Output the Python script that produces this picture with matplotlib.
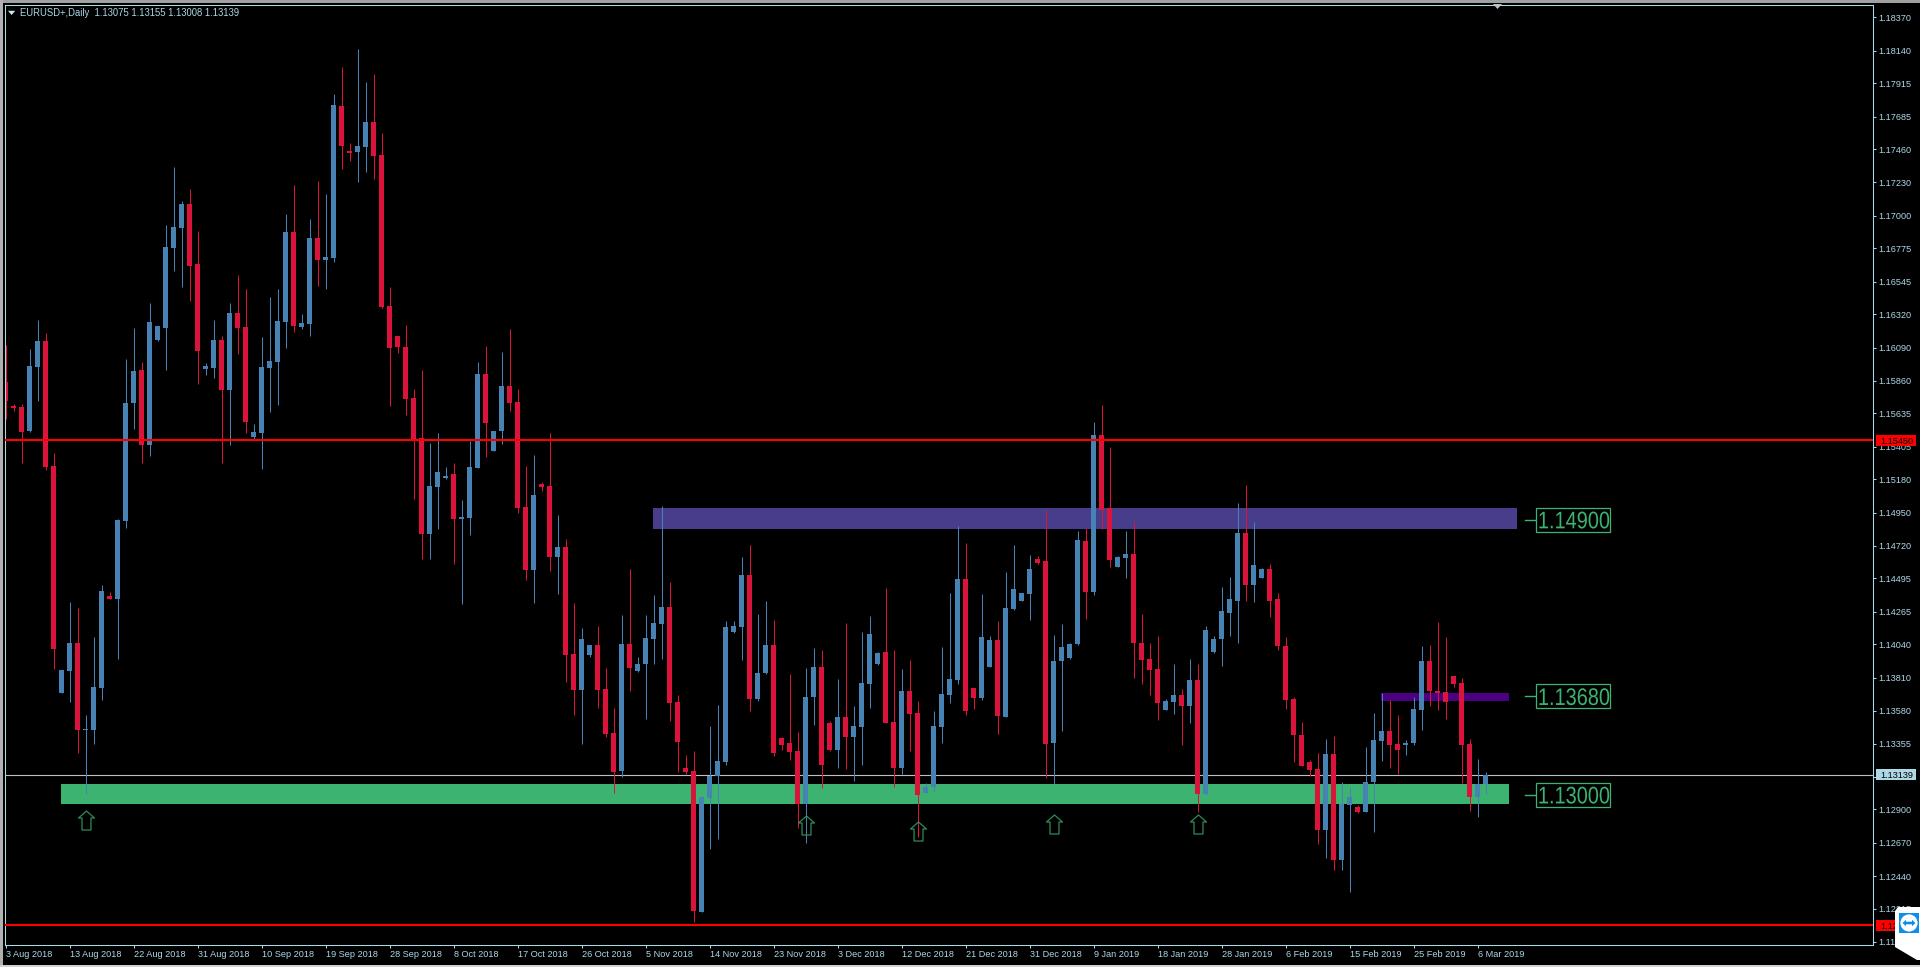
import numpy as np
import matplotlib
matplotlib.use("Agg")
import matplotlib.pyplot as plt
from matplotlib.patches import Rectangle, Polygon, Circle
from matplotlib.path import Path
from matplotlib.patheffects import AbstractPathEffect
from matplotlib.transforms import Affine2D

# Price values x 100000
opens = [
115852,115686,115679,115513,115955,116135,115272,113704,113856,114049,
113448,113448,113738,114374,114353,114892,115707,115935,115417,116142,
116225,116777,116915,117081,116667,115941,115948,116142,115796,116328,
116231,115472,115499,115948,115990,116266,116888,116231,116252,116846,
116694,116708,117758,117447,117440,117475,117647,117420,116377,116169,
116093,115741,115465,114802,115127,115189,115216,114905,114912,115258,
115907,115375,115513,115824,115713,114988,114553,115147,115133,114643,
114712,113973,113724,113966,114035,113731,113428,113165,114042,113856,
113904,114077,114180,114298,113642,113186,113165,112191,112978,113130,
113227,114125,114160,114519,113662,113842,114035,113393,113358,113303,
112937,113676,113883,113497,113310,113538,113400,113469,113766,113904,
113987,113503,113186,113717,113566,113013,113054,113469,113690,113794,
114491,113738,113669,113883,114070,113538,114284,114339,114388,114629,
114613,113361,113922,113946,114042,114753,114401,115486,114981,114574,
114636,114664,114051,113941,113872,113586,113644,113690,113616,113794,
113004,113989,114079,114259,114341,114806,114452,114500,114558,114351,
114028,113662,113414,113227,113176,112757,113282,112548,112930,112914,
112880,113087,113372,113441,113349,113345,113358,113586,113925,113717,
113711,113821,113773,113351,112985,113075]
closes = [
115720,115672,115506,115962,116135,115265,114008,113863,114049,113448,
113455,113745,114408,114353,114899,115707,115928,115417,116266,116238,
116784,116922,117081,116653,116066,115962,116142,115796,116328,116225,
115575,115506,115955,115997,116273,116888,116238,116259,116846,116694,
116715,117765,117482,117433,117482,117647,117413,116370,116086,116093,
115734,115451,114802,115133,115230,115203,114905,114919,115265,115907,
115568,115513,115824,115707,114981,114553,115071,115127,114643,114712,
113966,113724,114077,114035,113724,113421,113158,114042,113876,113904,
114084,114187,114298,113635,113365,113158,112198,112985,113130,113234,
114160,114167,114519,113662,113842,114035,113289,113345,113296,112937,
113676,113883,113206,113310,113538,113400,113476,113773,114111,113980,
113497,113186,113717,113559,112999,113054,113476,113697,113800,114491,
113579,113669,114090,114070,113545,114291,114422,114394,114560,114602,
113354,113927,114024,114045,114760,114401,115486,114968,114622,114643,
114664,114049,113934,113865,113637,113649,113690,113616,113794,113004,
114141,114079,114272,114351,114806,114452,114590,114558,114341,114028,
113655,113411,113202,113172,112757,113282,112548,112937,112985,112880,
113087,113381,113441,113345,113310,113358,113593,113925,113717,113704,
113642,113766,113345,112985,113075,113139]
highs = [
116107,115700,115700,116080,116280,116190,115361,113863,114332,114291,
113552,114090,114450,114401,114905,116010,116225,115990,116397,116238,
116936,117337,117102,117185,116895,115983,116280,116169,116397,116591,
116494,115562,116162,116439,116494,117012,117212,116321,116977,117240,
117150,117841,118027,117502,118152,117924,117979,117571,116508,116169,
116245,115803,115935,115430,115499,115265,115292,115037,115444,115990,
116100,115513,116059,116218,115803,115272,115347,115161,115499,114933,
114767,114325,114153,114035,114167,113876,113600,114242,114560,113952,
114242,114381,114995,114470,113690,113275,113303,112992,113476,113621,
114201,114201,114643,114726,114249,114339,114208,113400,113835,113434,
113876,114015,114001,113510,113800,114187,113614,114125,114235,113987,
114429,114001,113870,113932,113649,113082,113579,114021,114394,114857,
114740,113738,114388,114097,114201,114539,114726,114394,114657,114650,
114965,114107,114183,114051,114823,114843,115575,115693,115403,114650,
114823,114892,114249,114051,114100,113662,113906,113734,113941,113906,
114169,114100,114433,114503,115014,115138,114882,114569,114597,114397,
114093,113674,113503,113239,113289,113386,113409,113087,113054,112930,
113331,113566,113704,113655,113554,113379,113676,114028,114035,114194,
114090,113821,113807,113386,113248,113155]
lows = [
115596,115651,115292,115506,115720,115244,113870,113704,113642,113289,
113006,113351,113655,114353,113938,114843,115527,115292,115341,116135,
115935,116618,116508,116411,115838,115900,115879,115292,115417,116045,
115499,115458,115251,115644,115693,116086,116197,116218,116169,116515,
116494,116680,117323,117378,117233,117302,117254,116363,115686,116052,
115624,115044,114629,114629,114836,115182,114595,114318,114795,115258,
115334,115375,115423,115651,114947,114484,114325,115099,114546,114388,
113780,113552,113351,113952,113600,113400,113013,113124,113717,113849,
113524,113904,113938,113510,113158,113144,112122,112191,112626,112695,
113206,114118,113932,113579,113649,113835,113269,113310,113241,112771,
112668,113483,113048,113303,113186,113179,113096,113206,113600,113897,
113497,113054,113144,113303,112712,113013,113020,113358,113635,113766,
113552,113593,113655,113883,113421,113538,114277,114339,114208,114595,
113119,113075,113444,113941,114038,114215,114381,114836,114574,114574,
114498,113810,113766,113690,113517,113586,113556,113345,113499,112880,
112997,113982,113890,114100,114051,114341,114334,114496,114231,114001,
113593,113227,113202,113130,112658,112562,112479,112479,112327,112875,
112880,112741,113232,113186,113142,113275,113345,113448,113614,113586,
113524,113745,113082,112889,112847,113008]

date_labels = ["3 Aug 2018","13 Aug 2018","22 Aug 2018","31 Aug 2018","10 Sep 2018",
"19 Sep 2018","28 Sep 2018","8 Oct 2018","17 Oct 2018","26 Oct 2018","5 Nov 2018",
"14 Nov 2018","23 Nov 2018","3 Dec 2018","12 Dec 2018","21 Dec 2018","31 Dec 2018",
"9 Jan 2019","18 Jan 2019","28 Jan 2019","6 Feb 2019","15 Feb 2019","25 Feb 2019","6 Mar 2019"]
price_ticks = [1.18370,1.18140,1.17915,1.17685,1.17460,1.17230,1.17000,1.16775,1.16545,
1.16320,1.16090,1.15860,1.15635,1.15405,1.15180,1.14950,1.14720,1.14495,1.14265,1.14040,
1.13810,1.13580,1.13355,1.13125,1.12900,1.12670,1.12440,1.12215,1.11985]

# (left candle, right candle, upper price, lower price, colour)
band_green = (6.94, 187.94, 1.13075, 1.12937, "#3CB371")
band_blue = (80.94, 188.94, 1.14981, 1.14836, "#483D8B")
band_indigo = (171.94, 187.94, 1.13704, 1.13649, "#4B0082")
level_labels = [1.14900, 1.13680, 1.13000]
red_levels = [1.15450, 1.12100]
last_price = 1.13139
arrow_x = [10, 100, 114, 131, 149]
arrow_y = [1.12824, 1.12792, 1.12748, 1.12797, 1.12797]

UP, DOWN = "#4682B4", "#DC143C"
PALE = "#ADD8E6"
GREEN = "#3CB371"
W, H = 1920, 967
plt.rcParams["font.family"] = ["Liberation Sans", "DejaVu Sans"]


class SquashX(AbstractPathEffect):
    """Draw text narrower, holding its left edge in place."""

    def __init__(self, factor):
        super().__init__()
        self.factor = factor

    def draw_path(self, renderer, gc, tpath, affine, rgbFace=None):
        x0 = affine.transform_point((0, 0))[0]
        squeeze = Affine2D().translate(-x0, 0).scale(self.factor, 1).translate(x0, 0)
        renderer.draw_path(gc, tpath, affine + squeeze, rgbFace)


o, c, hi, lo = [np.array(a) / 1e5 for a in (opens, closes, highs, lows)]
assert len(o) == len(c) == len(hi) == len(lo) == 186
x = np.arange(len(o))
col = np.where(c >= o, UP, DOWN)

fig = plt.figure(figsize=(W / 100, H / 100), dpi=100, facecolor="black")
ax = fig.add_axes([4.5 / W, 1 - 944.5 / H, 1868 / W, 940 / H], facecolor="black")
ax.set_xlim(-0.125, 233.375)
ax.set_ylim(1.11967, 1.18459)

for l, r, top, bot, colr in (band_green, band_blue, band_indigo):
    ax.add_patch(Rectangle((l, bot), r - l, top - bot, fc=colr, ec="none", zorder=1, antialiased=False))

ax.axhline(last_price, color="#C0C0C0", lw=0.8, zorder=1.5)

ax.vlines(x, lo, hi, colors=col, lw=0.72, zorder=2, capstyle="butt")
ax.bar(x, np.abs(c - o), bottom=np.minimum(o, c), width=0.66, color=col, linewidth=0,
       zorder=2.2, antialiased=False)

for lv in red_levels:
    ax.axhline(lv, color="#FF0000", lw=1.5, zorder=3)

arrow = Path([(0, 1), (0.84, 0.26), (0.47, 0.26), (0.47, -1), (-0.47, -1), (-0.47, 0.26), (-0.84, 0.26), (0, 1)], closed=True)
ax.plot(arrow_x, arrow_y, ls="none", marker=arrow, ms=13.7, mfc="none", mec="#2E8B57", mew=0.9, zorder=4)

# level labels right of the bands
for lv in level_labels:
    ax.plot([189.95, 191.2], [lv, lv], color=GREEN, lw=1, zorder=3)
    ax.add_patch(Rectangle((191.3, lv - 0.00083), 9.25, 0.00166, fc="black", ec=GREEN, lw=0.9, zorder=3))
    ax.text(191.55, lv, f"{lv:.5f}", color=GREEN, fontsize=17.3, ha="left", va="center_baseline", zorder=4,
            path_effects=[SquashX(0.83)])

for s in ax.spines.values():
    s.set_color(PALE)
    s.set_linewidth(0.75)
ax.yaxis.tick_right()
ax.set_yticks(price_ticks, [f"{p:.5f}" for p in price_ticks])
ax.set_xticks(x[::8][:len(date_labels)], date_labels, ha="left")
ax.tick_params(axis="y", colors=PALE, length=2.2, width=0.75, labelsize=6.6, pad=2.2)
ax.tick_params(axis="x", colors=PALE, length=2.2, width=0.75, labelsize=6.6, pad=1.6)

# price tags
tag_h = 0.00038
for p, fc in ((red_levels[0], "#FF0000"), (red_levels[1], "#FF0000"), (last_price, PALE)):
    ax.add_patch(Rectangle((233.75, p - tag_h), 5.1, 2 * tag_h, fc=fc, ec="none", zorder=8, clip_on=False))
    ax.text(234.35, p, f"{p:.5f}", color="black", fontsize=6.6, ha="left", va="center_baseline", zorder=9, clip_on=False)

ax.text(20 / W, 1 - 12.5 / H, "EURUSD+,Daily  1.13075 1.13155 1.13008 1.13139", color=PALE, fontsize=6.85,
        ha="left", va="center_baseline", transform=fig.transFigure)


def px_poly(points, fc, zorder=20):
    fig.add_artist(Polygon([(a, H - b) for a, b in points], closed=True, fc=fc, ec="none", transform=None, zorder=zorder))


px_poly([(8, 10.8), (15.2, 10.8), (11.6, 15)], "#CFEAF2")
# window edges
px_poly([(0, 0), (W, 0), (W, 2.5), (0, 2.5)], "#A0A0A0")
px_poly([(0, 0), (2.5, 0), (2.5, H), (0, H)], "#B0B0B0")
px_poly([(0, 965), (W, 965), (W, H), (0, H)], "#D0D0D0")
px_poly([(1493, 4), (1502, 4), (1497.5, 9)], "#C0C0C0")
# remote-control widget
px_poly([(1895, 911), (1898, 907), (W, 907), (W, 960), (1917, 960), (1895, 947)], "white")
px_poly([(1899, 913), (1919, 913), (1919, 933), (1899, 933)], "#0E8EE9", 21)
fig.add_artist(Circle((1909, H - 923), 8.6, fc="white", ec="none", transform=None, zorder=22))
px_poly([(1902.5, 923), (1906, 919.8), (1906, 921.7), (1912, 921.7), (1912, 919.8), (1915.5, 923),
         (1912, 926.2), (1912, 924.3), (1906, 924.3), (1906, 926.2)], "#0E8EE9", 23)

fig.savefig("out.png", dpi=100, facecolor="black")
